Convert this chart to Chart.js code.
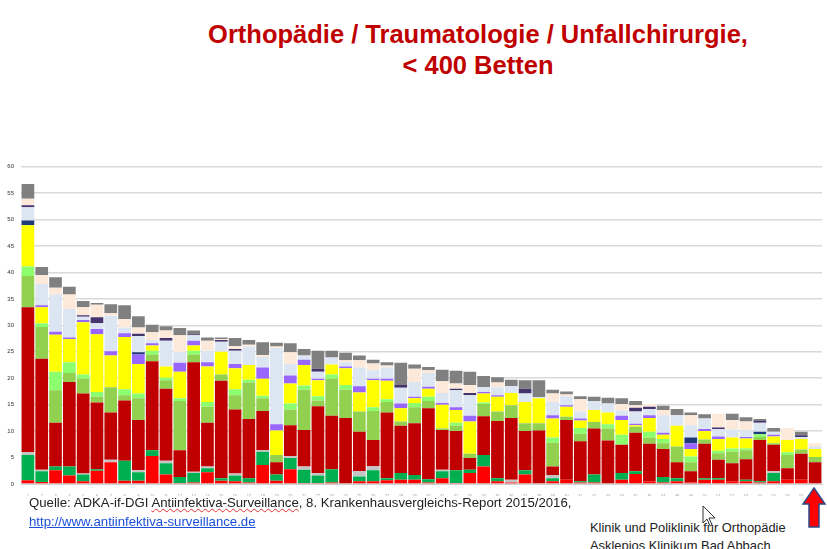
<!DOCTYPE html>
<html>
<head>
<meta charset="utf-8">
<script src="https://cdn.jsdelivr.net/npm/chart.js@4"></script>
<style>
  html, body { margin: 0; padding: 0; background: #fff; }
  body { width: 827px; height: 549px; position: relative; overflow: hidden; font-family: 'Liberation Sans', Arial, sans-serif; }
  .title { position: absolute; left: 0; width: 956px; text-align: center; color: #c00000; font-weight: bold; font-size: 25.5px; line-height: 31px; top: 19px; }
  #wrap { position: absolute; left: 0; top: 156px; width: 827px; height: 340px; }
  .src { position: absolute; left: 29px; top: 493px; font-size: 13.2px; color: #222; line-height: 19px; }
  .src a { color: #1a4fd8; text-decoration: underline; }
  .wavy { text-decoration: underline wavy #e03030; text-decoration-thickness: 1px; }
  .clinic { position: absolute; left: 590px; top: 519px; font-size: 12.9px; color: #222; line-height: 18px; }
  #arrow { position: absolute; left: 801px; top: 487px; }
  #cursor { position: absolute; left: 702px; top: 505px; }
</style>
</head>
<body>
<div class="title">Orthopädie / Traumatologie / Unfallchirurgie,<br>&lt; 400 Betten</div>
<div id="wrap"><canvas id="stackChart" width="827" height="340"></canvas></div>
<div class="src">Quelle: ADKA-if-DGI <span class="wavy">Antiinfektiva-Surveillance</span>, 8. Krankenhausvergleichs-Report 2015/2016,<br><a href="#">http://www.antiinfektiva-surveillance.de</a></div>
<div class="clinic">Klinik und Poliklinik für Orthopädie<br>Asklepios Klinikum Bad Abbach</div>
<svg id="arrow" width="26" height="42" viewBox="0 0 26 42">
  <polygon points="13,1 24,17 18,17 18,40 8,40 8,17 2,17" fill="#ff0000" stroke="#2f4a8a" stroke-width="1.5"/>
</svg>
<svg id="cursor" width="16" height="24" viewBox="0 0 16 24">
  <polygon points="1,1 1,18 5,14 8,21 10,20 7,13 13,13" fill="#fff" stroke="#333" stroke-width="1"/>
</svg>
<script>
(function(){
    // hospital ids along the x axis (labels are not legible in the source)
    const hospitals = Array.from({ length: 58 }, (_, i) => String(i + 1));
    const yTicks = [0, 5, 10, 15, 20, 25, 30, 35, 40, 45, 50, 55, 60];

    // stacked segments, bottom to top
    const red = [0.7,0.4,2.6,1.6,0.5,2.5,4.1,0.6,0.6,5.3, 1.8,0.2,0.3,2.2,0.6,0.5,0.3,3.6,0.6,2.8, 0.2,0.2,0.3,0.2,0.5,0.5,0.7,0.8,0.8,0.3, 1.1,0.2,2.1,3.3,0.5,0.3,1.8,0.2,0.5,0.8, 0.3,0.3,0.2,0.8,1.9,0.5,0.3,0.5,0.3,0.8, 0.8,0.5,0.5,0.3,0.5,0.8,0.8,0.2];
    const green = [4.8,2.0,0.7,1.7,1.3,0.3,0,3.8,1.6,1.1, 2.1,1.1,1.8,0.8,0.5,1.1,0.8,2.5,1.2,2.1, 2.5,1.4,2.5,0,0.9,2.1,0.4,1.3,0.9,0.6, 1.3,2.4,0.6,2.2,0.6,0,0.8,0,0.6,0, 0.2,1.5,0,1.3,0.5,0,1.0,0.6,0,0.3, 0.3,0,0.3,0.2,1.6,0,0,0];
    const lightGrey = [0.5,0.3,0,0,0.2,0,0.5,0,0.4,0, 0.5,0,0.2,0.3,0,0.4,0,0.3,0,0.4, 0.6,0.5,0,0,1.0,0.8,0,0,0,0, 0.3,0,0,0,0,0.5,0,0,0.6,0, 0,0,0,0,0,0,0,0,0,0, 0,0,0,0,0.3,0,0,0];
    const darkRed = [27.4,21.0,8.3,16.0,15.1,12.6,8.9,11.4,9.5,16.8, 13.6,5.1,20.7,8.3,18.4,12.1,11.2,7.4,2.3,5.8, 6.9,12.6,10.1,12.3,7.5,4.9,12.4,8.9,9.8,13.4, 7.5,7.4,2.2,7.3,10.8,11.7,7.4,9.9,1.6,11.3, 7.6,8.7,8.0,5.3,7.3,7.1,5.3,3.0,2.1,6.5, 3.5,3.4,3.9,7.8,5.0,2.2,4.9,3.9];
    const olive = [5.9,6.0,6.1,1.7,2.8,1.1,4.8,1.0,4.1,1.3, 1.6,9.3,1.5,3.0,1.2,2.7,6.9,2.4,1.4,3.0, 7.6,1.1,7.0,5.3,3.8,5.5,2.0,0.8,3.0,1.4, 0.3,1.0,0.8,2.3,1.8,2.4,1.5,1.4,4.5,0.6, 1.4,1.2,2.3,0,1.1,1.2,1.1,3.0,1.7,0.8, 1.2,2.2,1.7,0.6,0.3,2.5,0.8,1.0];
    const lightGreen = [1.8,0.7,3.5,2.0,0.8,0.9,0,1.1,0.9,0.7, 0.5,0.5,0.7,0.9,0,1.1,0.5,0.5,0,1.1, 0.8,0.8,0.8,0.9,0,0.7,0.5,0,0.8,0.8, 0,0.6,0,0.3,0,0,0,0,1.0,0, 1.1,0,0.8,1.9,0,1.1,0.8,0,1.1,0, 0.5,0.6,0.3,0.5,0,0.5,0,0];
    const yellow = [7.8,3.0,7.0,4.4,9.9,10.9,6.0,9.9,5.6,1.0, 2.1,5.0,1.0,6.7,4.3,4.0,2.8,3.2,4.6,3.8, 3.9,3.0,1.9,3.2,3.6,5.1,3.5,2.5,0.9,1.5, 4.5,2.4,6.1,1.7,2.8,2.3,4.0,4.7,3.6,1.9, 1.4,2.3,2.2,2.8,0.3,2.6,0.8,3.9,1.4,1.6, 2.2,2.1,1.9,0,1.3,2.3,2.0,1.5];
    const purple = [0,0.4,0.6,0.3,0.4,1.0,0.8,0.7,1.8,0.4, 0,1.7,0.9,0.8,0,0.8,0,2.1,1.2,1.5, 1.0,0.3,0,0.3,1.2,0.3,0.4,0.9,0.3,0.4, 0.3,0.5,1.1,0.3,0.3,0,0,0,0.6,0.3, 0.4,0,0,0.8,0.3,0.5,0.4,0,1.1,0.4, 0.5,0,0.3,0,0.3,0,0,0];
    const navy = [0.9,0,0,0,0,0,0,0,0.4,0, 0,0,0,0,0,0,0,0,0,0, 0,0,0,0,0,0,0,0,0,0, 0,0,0,0,0,0,0,0,0,0, 0,0,0,0,0,0,0,0,1.1,0, 0,0,0,0.5,0,0,0,0];
    const lightBlue = [2.5,4.0,7.0,5.4,0.6,1.1,6.7,1.1,3.1,0.6, 4.9,2.0,1.0,2.2,1.9,2.5,3.5,2.0,14.4,2.2, 0.8,1.3,1.3,0.8,3.5,1.6,2.1,3.0,2.8,2.6, 1.9,3.2,3.9,0.9,1.5,1.3,1.6,0.2,2.5,1.7, 1.3,1.7,1.7,1.0,2.3,1.2,3.3,2.0,2.3,2.0, 1.4,1.5,1.3,1.7,0.6,0,0.4,0.5];
    const darkPurple = [0.4,0,0,0,0.3,1.1,0,0,0.4,0, 0.5,0,0.2,0,0.3,0.3,0,0,0,0, 0,0.6,0,0,0,0,0,0.5,0,0, 0,0.3,0.4,0,0,0,0.9,0,0,0, 0,0,0,0,0.7,0.4,0,0,0,0, 0.3,0,0,0.3,0,0,0.3,0];
    const peach = [1.2,1.7,1.3,2.7,1.5,2.4,0.5,1.6,1.2,1.5, 1.4,3.2,0,1.9,0.2,0.6,0.3,0.4,0.3,2.2, 0,0,0,0.4,1.4,1.3,0.4,0,2.5,0.5, 2.2,1.0,1.5,0,0.9,0,0,0,1.6,0.3, 2.3,0,0,1.2,0.5,0.5,1.0,0,1.9,0, 2.6,1.8,1.6,0,0,2.3,0,0.6];
    const grey = [2.8,1.5,2.0,1.5,1.2,0.3,1.7,2.6,2.1,1.4, 0.8,1.4,0.7,0.6,0.3,1.5,0.9,2.4,0.7,1.7, 1.2,3.4,1.3,1.4,0.9,0.7,0.6,4.2,0.8,0.6, 2.2,2.4,2.5,2.1,1.0,1.2,1.6,3.2,0.7,0.6, 0.6,0.8,1.1,1.1,0.8,0,0.8,1.2,0.5,0.8, 0,1.2,0.8,0.4,0.7,0,0.7,0];

    const layers = [
        ['red', red, '#ff0000'],
        ['green', green, '#00b050'],
        ['lightGrey', lightGrey, '#c4c4c4'],
        ['darkRed', darkRed, '#c00000'],
        ['olive', olive, '#92d050'],
        ['lightGreen', lightGreen, '#8cff6e'],
        ['yellow', yellow, '#ffff00'],
        ['purple', purple, '#9966ff'],
        ['navy', navy, '#1f3a78'],
        ['lightBlue', lightBlue, '#dce6f2'],
        ['darkPurple', darkPurple, '#46346e'],
        ['peach', peach, '#fde9d9'],
        ['grey', grey, '#808080']
    ];

    try {
        const ctx = document.getElementById('stackChart');
        new Chart(ctx, {
            type: 'bar',
            data: {
                labels: hospitals,
                datasets: layers.map(l => ({
                    label: l[0],
                    data: l[1],
                    backgroundColor: l[2],
                    borderWidth: 0,
                    barPercentage: 0.92,
                    categoryPercentage: 1
                }))
            },
            options: {
                responsive: false,
                animation: false,
                layout: { padding: { top: 8, right: 5, left: 0, bottom: 0 } },
                plugins: { legend: { display: false }, tooltip: { enabled: false } },
                scales: {
                    x: {
                        stacked: true,
                        grid: { display: false },
                        border: { color: '#d0d0d0' },
                        ticks: { color: '#9a9a9a', font: { size: 4 }, autoSkip: false, maxRotation: 0, padding: 1 },
                        afterFit: s => { s.height = 12; }
                    },
                    y: {
                        stacked: true,
                        min: 0,
                        max: 60,
                        afterBuildTicks: s => { s.ticks = yTicks.map(v => ({ value: v })); },
                        grid: { color: '#d9d9d9', lineWidth: 1.5, drawTicks: false },
                        border: { display: false },
                        ticks: { color: '#333', font: { size: 6 }, padding: 7 },
                        afterFit: s => { s.width = 21; }
                    }
                }
            }
        });
    } catch (err) {
        console.error('chart init error', err);
    }
})();
</script>
</body>
</html>
